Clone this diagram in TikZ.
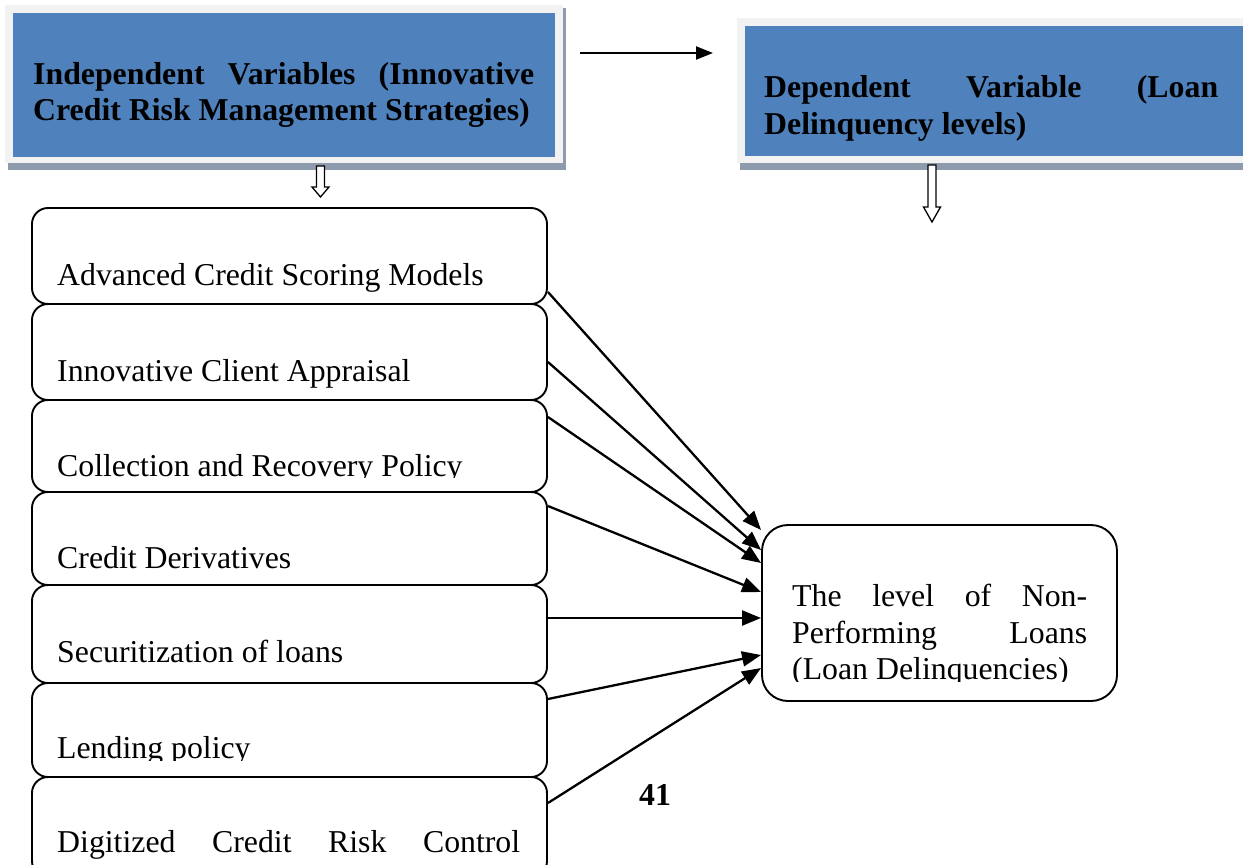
\documentclass[tikz,border=0pt]{standalone}
\usepackage{fontspec}
\setmainfont{Liberation Serif}
\usetikzlibrary{arrows.meta}
\definecolor{hblue}{HTML}{4F81BD}
\definecolor{hframe}{HTML}{F2F2F2}
\definecolor{hshadow}{HTML}{8E9BAD}
\tikzset{
  big/.style={font=\fontsize{31.8pt}{36.6pt}\selectfont},
  bigbold/.style={font=\fontsize{31.8pt}{36.6pt}\selectfont\bfseries},
  itembox/.style={draw, line width=1.9pt, rounded corners=16pt, fill=white, minimum width=515pt, inner sep=0pt},
  conn/.style={line width=2.3pt, -{Triangle[length=19pt,width=15pt]}},
  txt/.style={big, anchor=base west, inner sep=0pt},
  btxt/.style={bigbold, anchor=base west, inner sep=0pt},
  hollow/.style={draw, line width=1.3pt, fill=white},
}
\begin{document}
\begin{tikzpicture}[x=1pt,y=-1pt]
\useasboundingbox[fill=white] (0,0) rectangle (1243,865);

% heading: independent variables
\fill[hshadow] (8,8) rectangle (566,170);
\node[fill=hframe, minimum width=558pt, minimum height=158pt, inner sep=0pt] (ivf) at (284,84) {};
\node[fill=hblue, minimum width=542pt, minimum height=144pt, inner sep=0pt] (iv) at (284,85) {};
\node[btxt] (ivt1) at (33,84) {\hbox to 501pt{Independent\hfill Variables\hfill (Innovative}};
\node[btxt] (ivt2) at (33,120) {Credit Risk Management Strategies)};

% heading: dependent variable
\fill[hshadow] (740,21) rectangle (1253,170);
\node[fill=hframe, minimum width=513pt, minimum height=145pt, inner sep=0pt] (dvf) at (993.5,90.5) {};
\node[fill=hblue, minimum width=505pt, minimum height=130pt, inner sep=0pt] (dv) at (997.5,91) {};
\node[btxt] (dvt1) at (764,97) {\hbox to 454pt{Dependent\hfill Variable\hfill (Loan}};
\node[btxt] (dvt2) at (764,134) {Delinquency levels)};

% top arrow
\coordinate (p0) at (580,53);
\coordinate (p1) at (713,53);
\draw[line width=2.2pt, -{Triangle[length=17pt,width=13pt]}] (p0) -- (p1);

% hollow down arrows
\draw[hollow] (316.5,166) -- (324.5,166) -- (324.5,187) -- (329,187) -- (320.5,197) -- (312,187) -- (316.5,187) -- cycle;
\draw[hollow] (928,165) -- (936,165) -- (936,207) -- (940.5,207) -- (932,222) -- (923.5,207) -- (928,207) -- cycle;

% item boxes
\node[itembox, minimum height=96pt] (b1) at (289.5,256) {};
\node[itembox, minimum height=96pt] (b2) at (289.5,352) {};
\node[itembox, minimum height=92pt] (b3) at (289.5,446) {};
\node[itembox, minimum height=93pt] (b4) at (289.5,538.5) {};
\node[itembox, minimum height=98pt] (b5) at (289.5,634) {};
\node[itembox, minimum height=94pt] (b6) at (289.5,730) {};
\node[itembox, minimum height=100pt] (b7) at (289.5,827) {};

\node[txt] (t1) at (57,285) {Advanced Credit Scoring Models};
\node[txt] (t2) at (57,381) {Innovative Client Appraisal};
\begin{scope}
  \clip (40,400) rectangle (540,477.5);
  \node[txt] (t3) at (57,476) {Collection and Recovery Policy};
\end{scope}
\node[txt] (t4) at (57,568) {Credit Derivatives};
\node[txt] (t5) at (57,662) {Securitization of loans};
\begin{scope}
  \clip (40,690) rectangle (540,760);
  \node[txt] (t6) at (57,758) {Lending policy};
\end{scope}
\node[txt] (t7) at (57,852) {\hbox to 463pt{Digitized\hfill Credit\hfill Risk\hfill Control}};

% outcome box
\node[draw, line width=1.9pt, rounded corners=26pt, fill=white, minimum width=355pt, minimum height=176pt, inner sep=0pt] (nd) at (939.5,613) {};
\node[txt] (n1) at (792,606) {\hbox to 295pt{The\hfill level\hfill of\hfill Non-}};
\node[txt] (n2) at (792,643) {\hbox to 295pt{Performing\hfill Loans}};
\begin{scope}
  \clip (780,650) rectangle (1100,681);
  \node[txt] (n3) at (792,679) {(Loan Delinquencies)};
\end{scope}

% connectors
\draw[conn] ([yshift=-36pt]b1.east) -- ([yshift=83pt]nd.west);
\draw[conn] ([yshift=-10pt]b2.east) -- ([yshift=63pt]nd.west);
\draw[conn] ([yshift=29pt]b3.east) -- ([yshift=50pt]nd.west);
\draw[conn] ([yshift=32.5pt]b4.east) -- ([yshift=21pt]nd.west);
\draw[conn] ([yshift=16pt]b5.east) -- ([yshift=-5pt]nd.west);
\draw[conn] ([yshift=31pt]b6.east) -- ([yshift=-42pt]nd.west);
\draw[conn] ([yshift=24pt]b7.east) -- ([yshift=-55pt]nd.west);

% page number
\node[bigbold, inner sep=0pt] (pg) at (655,795) {41};
\end{tikzpicture}
\end{document}
